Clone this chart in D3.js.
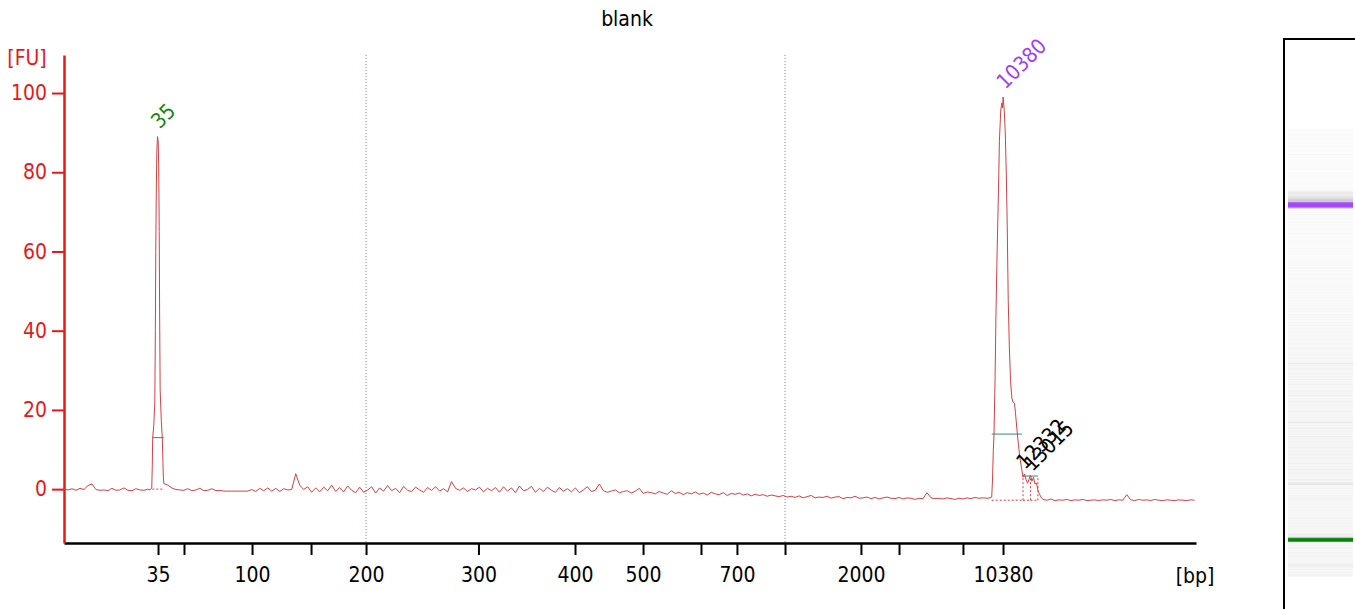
<!DOCTYPE html>
<html>
<head>
<meta charset="utf-8">
<script src="https://cdn.jsdelivr.net/npm/d3@7"></script>
<style>
  body { margin: 0; background: #fff; }
  svg { display: block; font-family: "DejaVu Sans Condensed", "DejaVu Sans", sans-serif; }
</style>
</head>
<body>
<svg id="chart" width="1355" height="609"></svg>
<script>
// ladder: fragment size [bp] and migration time [s]
const ladderBp   = [35, 50, 100, 150, 200, 300, 400, 500, 600, 700, 1000, 2000, 3000, 7000, 10380];
const ladderTime = [47.06, 49.01, 54.12, 58.55, 62.68, 71.12, 78.37, 83.48, 87.83, 90.53, 94.14, 99.84, 102.70, 107.50, 110.51];
const labeledBp  = [35, 100, 200, 300, 400, 500, 700, 2000, 10380];
const gridBp     = [200, 1000];
const fuTicks    = [0, 20, 40, 60, 80, 100];

// baseline signal [FU], one value every 0.3 s from 40 s
const baseStart = 40, baseStep = 0.3;
const baseline = [
   0.0,-0.2, 0.1,-0.3, 0.2,-0.1, 0.9, 1.3,-0.1,-0.3,
  -0.2,-0.4, 0.2,-0.3,-0.2, 0.3,-0.3,-0.4, 0.1,-0.2,
  -0.3, 0.0, 0.0, 0.0, 0.0, 1.4, 1.0, 0.3,-0.1,-0.2,
  -0.3, 0.1,-0.4,-0.2, 0.2,-0.4,-0.3, 0.1,-0.4,-0.3,
  -0.5,-0.5,-0.5,-0.5,-0.5,-0.5,-0.5,-0.1,-0.6, 0.2,
  -0.4, 0.3,-0.5, 0.2,-0.6, 0.1,-0.2,-0.1, 3.9, 1.0,
  -0.1, 0.6,-0.8, 0.3,-0.7, 0.5,-0.4, 1.0,-0.6, 0.4,
  -0.7, 0.8,-0.3,-0.9, 0.5,-0.8,-0.2, 0.6,-1.0, 0.3,
  -0.5, 0.9,-0.4, 0.2,-0.9, 0.7,-0.3,-0.6, 0.5,-0.2,
  -0.8, 0.4,-0.3, 0.6,-0.5, 0.1,-0.7, 1.9, 0.2,-0.3,
   0.3,-0.6, 0.1,-0.2, 0.5,-0.7, 0.2,-0.4, 0.4,-0.8,
   0.6,-0.5, 0.3,-0.9, 0.8,-0.4,-0.1, 0.7,-0.8, 0.2,
  -0.6, 0.5,-0.3,-0.8, 0.4,-0.5, 0.1,-0.7, 0.3,-0.9,
  -0.2, 0.6,-0.6,-0.3, 1.3,-0.4,-0.8,-0.5,-0.2,-0.9,
  -0.6,-0.4,-1.0,-0.5, 0.2,-1.1,-0.7,-0.9,-1.2,-0.6,
  -1.0,-1.3,-0.4,-1.1,-0.8,-1.4,-0.9,-1.2,-0.7,-1.3,
  -1.0,-1.5,-0.8,-1.2,-1.4,-0.9,-1.6,-1.1,-1.3,-1.0,
  -1.5,-1.2,-1.7,-1.3,-1.6,-1.4,-1.8,-1.5,-1.7,-1.9,
  -1.6,-2.0,-1.8,-2.1,-1.7,-2.2,-1.9,-1.6,-2.2,-2.0,
  -2.1,-1.8,-2.3,-2.0,-1.9,-2.4,-2.1,-2.2,-1.8,-2.3,
  -2.2,-2.0,-2.4,-2.1,-2.5,-2.2,-2.0,-2.3,-2.4,-2.1,
  -2.5,-2.2,-2.3,-2.6,-2.3,-2.4,-0.9,-2.2,-2.4,-2.3,
  -2.5,-2.2,-2.4,-2.6,-2.3,-2.5,-2.2,-2.4,-2.1,-2.3,
  -2.2,-2.3, 0.0, 0.0, 0.0, 0.0, 0.0, 0.0, 0.0, 0.0,
   0.0, 0.0, 0.0, 0.0, 0.0,-2.6,-2.8,-2.5,-2.9,-2.7,
  -2.8,-2.6,-2.9,-2.7,-2.8,-2.6,-2.9,-2.8,-2.7,-2.9,
  -2.7,-2.8,-2.6,-2.9,-2.7,-2.8,-1.4,-2.7,-2.9,-2.6,
  -2.8,-2.7,-2.9,-2.6,-2.8,-2.9,-2.7,-2.8,-2.9,-2.7,
  -2.8,-2.9,-2.7,-2.8
];

// finely sampled peak regions [time s, FU]
const peakLower = [
  [46.46,-0.2],[46.59,0.3],[46.63,6],[46.66,13],[46.74,16],[46.82,22],[46.86,40],
  [46.89,60],[46.93,75],[46.97,85],[47.02,89],[47.07,88],[47.11,82],[47.15,65],
  [47.18,45],[47.22,25],[47.31,17],[47.38,13],[47.46,3]
];
const peakUpper = [
  [109.53,-2.2],[109.66,-2.0],[109.72,2.3],[109.78,9.8],[109.83,13.6],[109.91,27.5],
  [109.98,44.4],[110.07,60.4],[110.17,75.5],[110.24,88.1],[110.34,95.7],[110.42,97.5],
  [110.47,96.2],[110.52,99.0],[110.60,95.7],[110.67,90.7],[110.75,80.6],[110.83,65.4],
  [110.90,47.7],[110.98,36.4],[111.07,27.5],[111.17,23.0],[111.26,22.0],[111.37,21.7],
  [111.44,19.4],[111.56,14.9],[111.67,11.1],[111.78,7.8],[111.90,5.3],[112.01,3.0],
  [112.12,3.8],[112.23,2.5],[112.35,1.5],[112.46,2.5],[112.57,3.5],[112.68,2.0],
  [112.80,3.0],[112.91,1.3],[113.02,1.5],[113.13,-0.3],[113.25,-1.3],[113.36,-2.0]
];

// called peaks: label, time, FU, colour
const peakNames  = ["35", "10380", "12332", "13015"];
const peakTimes  = [47.04, 110.52, 112.01, 112.57];
const peakFU     = [89, 99, 3.0, 2.5];
const peakColors = ["#118811", "#a040f0", "#000", "#000"];

// marker bands in the gel: [from s, to s, min FU, colour]
const markerBands = [
  [46.0, 48.0, 10, '#008000'],
  [109.0, 112.0, 40, '#9b30ff']
];

// integration regions: [start s, end s, baseline FU, level FU]
const regions = [
  [46.63, 47.49, 0, 13],
  [109.66, 111.92, -2.8, 13.9],
  [112.01, 112.57, -2.8, 3.3],
  [112.57, 113.13, -2.8, 3.3]
];
const splitTimes = [112.01, 112.57, 113.13];

// ---- build trace
const peakRanges = [peakLower, peakUpper].map(p => [p[0][0], p[p.length - 1][0]]);
const basePts = baseline
  .map((v, i) => [baseStart + i * baseStep, v])
  .filter(d => !peakRanges.some(r => d[0] >= r[0] - 1e-6 && d[0] <= r[1] + 1e-6));
const trace = basePts.concat(peakLower, peakUpper).sort((a, b) => a[0] - b[0]);

const svg = d3.select('#chart');
const x = d3.scaleLinear().domain([40, 125]).range([64, 1196]);
const y = d3.scaleLinear().domain([-13.6, 109.6]).range([543, 55]);
const red = "#e31a1a";
const font = '"DejaVu Sans Condensed", "DejaVu Sans", sans-serif';

// title
svg.append('text').attr('x', 627).attr('y', 26).attr('text-anchor', 'middle')
  .attr('font-size', 21).text('blank');

// dotted grid lines
svg.selectAll('line.grid')
  .data(gridBp.map(b => ladderTime[ladderBp.indexOf(b)]))
  .enter().append('line').attr('class', 'grid')
  .attr('x1', d => x(d)).attr('x2', d => x(d))
  .attr('y1', y.range()[1]).attr('y2', y.range()[0])
  .attr('stroke', '#7d7dc8').attr('stroke-width', 1).attr('stroke-dasharray', '1,2');

// x axis
const xAxis = d3.axisBottom(x)
  .tickValues(ladderTime)
  .tickFormat((d, i) => labeledBp.includes(ladderBp[i]) ? ladderBp[i] : "")
  .tickSize(12).tickSizeOuter(0).tickPadding(12);
const gx = svg.append('g').attr('transform', 'translate(0,543)').call(xAxis);
gx.select('.domain').attr('stroke', '#000').attr('stroke-width', 2.5);
gx.selectAll('.tick line').attr('stroke', '#000').attr('stroke-width', 2);
gx.selectAll('.tick text').attr('font-size', 21).attr('fill', '#000').attr('font-family', font);
svg.append('text').attr('x', 1195).attr('y', 583).attr('text-anchor', 'middle')
  .attr('font-size', 21).text('[bp]');

// y axis
const yAxis = d3.axisLeft(y).tickValues(fuTicks).tickSize(12).tickSizeOuter(0).tickPadding(5);
const gy = svg.append('g').attr('transform', 'translate(64,0)').call(yAxis);
gy.select('.domain').attr('stroke', red).attr('stroke-width', 2.5);
gy.selectAll('.tick line').attr('stroke', red).attr('stroke-width', 2);
gy.selectAll('.tick text').attr('font-size', 21).attr('fill', red).attr('font-family', font);
svg.append('text').attr('x', 27).attr('y', 65).attr('text-anchor', 'middle')
  .attr('font-size', 21).attr('fill', red).text('[FU]');

// region baselines (dotted) and levels
svg.selectAll('line.rbase').data(regions).enter().append('line')
  .attr('x1', d => x(d[0])).attr('x2', d => x(d[1]))
  .attr('y1', d => y(d[2])).attr('y2', d => y(d[2]))
  .attr('stroke', '#d04040').attr('stroke-width', 1).attr('stroke-dasharray', '2,2');
svg.selectAll('line.rsplit').data(splitTimes).enter().append('line')
  .attr('x1', d => x(d)).attr('x2', d => x(d))
  .attr('y1', y(-2.8)).attr('y2', y(3.3))
  .attr('stroke', '#d04040').attr('stroke-width', 1).attr('stroke-dasharray', '2,2');
svg.selectAll('line.rlevel').data(regions).enter().append('line')
  .attr('x1', d => x(d[0])).attr('x2', d => x(d[1]))
  .attr('y1', d => y(d[3])).attr('y2', d => y(d[3]))
  .attr('stroke', '#2e8b7a').attr('stroke-width', 1);

// trace
const line = d3.line().x(d => x(d[0])).y(d => y(d[1]));
svg.append('path').datum(trace).attr('d', line)
  .attr('fill', 'none').attr('stroke', '#cc4444').attr('stroke-width', 1);

// peak labels
svg.selectAll('text.peak').data(peakNames).enter().append('text')
  .attr('transform', (d, i) => `translate(${x(peakTimes[i]) + 2},${y(peakFU[i]) - 7}) rotate(-45)`)
  .attr('font-size', 21).attr('fill', (d, i) => peakColors[i]).text(d => d);

// gel lane
const gelY = d3.scaleLinear().domain([47.04, 110.52]).range([539.5, 204.5]);
const gray = d3.scaleLinear().domain([-3, 0, 3, 20]).range([251, 244, 226, 195]).clamp(true);
svg.append('rect').attr('x', 1284).attr('y', 39).attr('width', 100).attr('height', 600)
  .attr('fill', '#fff').attr('stroke', '#000').attr('stroke-width', 2);
const bands = d3.pairs(trace);
svg.selectAll('rect.gel').data(bands).enter().append('rect')
  .attr('x', 1288).attr('width', 65)
  .attr('y', d => gelY(d[1][0]))
  .attr('height', d => Math.max(0.6, gelY(d[0][0]) - gelY(d[1][0])))
  .attr('fill', d => {
    const t = d[0][0], v = d[0][1];
    const m = markerBands.find(b => t >= b[0] && t <= b[1] && v > b[2]);
    if (m) return m[3];
    const g = Math.round(gray(v));
    return `rgb(${g},${g},${g})`;
  });
</script>
</body>
</html>
